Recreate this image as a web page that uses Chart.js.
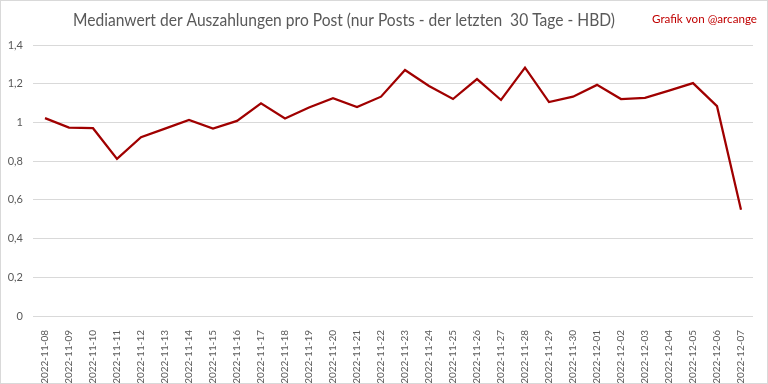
<!DOCTYPE html>
<html><head><meta charset="utf-8">
<script src="https://cdn.jsdelivr.net/npm/chart.js@4.4.0/dist/chart.umd.min.js"></script>
<style>
html,body{margin:0;padding:0;background:#fff;}
#wrap{position:relative;width:766px;height:382px;border:1px solid #d9d9d9;}
</style></head>
<body><div id="wrap"><canvas id="c" width="766" height="382"></canvas></div>
<script>
const categories = ["2022-11-08","2022-11-09","2022-11-10","2022-11-11","2022-11-12","2022-11-13","2022-11-14","2022-11-15","2022-11-16","2022-11-17","2022-11-18","2022-11-19","2022-11-20","2022-11-21","2022-11-22","2022-11-23","2022-11-24","2022-11-25","2022-11-26","2022-11-27","2022-11-28","2022-11-29","2022-11-30","2022-12-01","2022-12-02","2022-12-03","2022-12-04","2022-12-05","2022-12-06","2022-12-07"];
const medianValues = [1.022,0.973,0.970,0.812,0.924,0.968,1.013,0.968,1.008,1.099,1.020,1.077,1.125,1.079,1.133,1.271,1.188,1.121,1.224,1.116,1.283,1.105,1.133,1.194,1.121,1.127,1.164,1.203,1.084,0.549];
const yTicks = [0,0.2,0.4,0.6,0.8,1,1.2,1.4];
const titleText = "Medianwert der Auszahlungen pro Post (nur Posts - der letzten  30 Tage - HBD)";
const creditText = "Grafik von @arcange";
const FONT = '"Liberation Sans Narrow", Lato, sans-serif';

function fitText(ctx, text, cx, cy, targetW, align){
  const w = ctx.measureText(text).width;
  const s = targetW / w;
  ctx.save();
  ctx.translate(cx, cy);
  ctx.scale(s, 1);
  ctx.textAlign = align;
  ctx.fillText(text, 0, 0);
  ctx.restore();
}

const textPlugin = {
  id:'texts',
  afterDraw(chart){
    const ctx = chart.ctx;
    ctx.save();
    ctx.textBaseline='middle';
    ctx.fillStyle='#595959';
    ctx.font='18px Lato, sans-serif';
    fitText(ctx, titleText, 343, 19, 542, 'center');
    ctx.fillStyle='#c00000';
    ctx.font='12px Lato, sans-serif';
    fitText(ctx, creditText, 756, 18, 105, 'right');
    ctx.restore();
  }
};

new Chart(document.getElementById('c'), {
  type:'line',
  data:{labels:categories, datasets:[{data:medianValues, borderColor:'#a00000', borderWidth:2.25, pointRadius:0, tension:0, fill:false}]},
  options:{
    responsive:false, animation:false,
    layout:{padding:{top:44,left:0,right:14,bottom:0}},
    plugins:{legend:{display:false}, tooltip:{enabled:false}},
    scales:{
      x:{offset:true, grid:{display:false}, border:{display:false},
         afterFit(ax){ax.height = 67;},
         ticks:{color:'#595959', font:{family:FONT, size:10}, minRotation:90, maxRotation:90, autoSkip:false, padding:6}},
      y:{min:0, max:1.4, afterBuildTicks(ax){ax.ticks = yTicks.map(v=>({value:v}));},
         afterFit(ax){ax.width = 32;},
         grid:{color:'#d9d9d9', lineWidth:1, drawTicks:false}, border:{display:false},
         ticks:{color:'#595959', padding:10, font:{family:FONT, size:11},
                callback:v=>String(Math.round(v*10)/10).replace('.',',')}}
    }
  },
  plugins:[textPlugin]
});
</script></body></html>
